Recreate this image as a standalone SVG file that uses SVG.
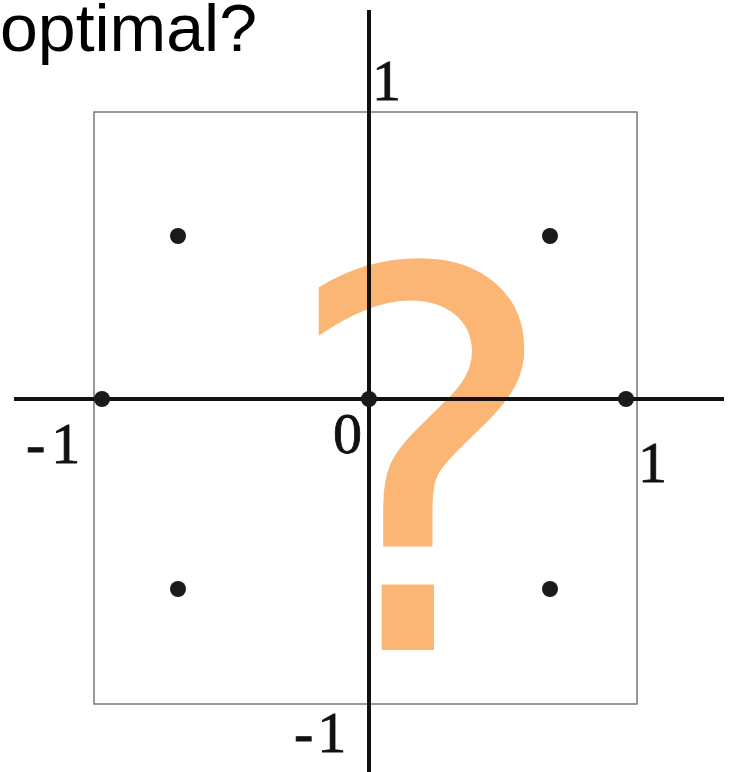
<svg xmlns="http://www.w3.org/2000/svg" width="734" height="772" viewBox="0 0 734 772">
<style>
.axis{stroke:#111;stroke-width:4;fill:none}
.box{stroke:#777;stroke-width:1.5;fill:none}
.dot{fill:#1a1a1a}
.lbl{font-family:"Liberation Serif",serif;font-size:58px;fill:#111;stroke:#111;stroke-width:0.8}
.title{font-family:"Liberation Sans",Arial,sans-serif;font-size:66px;fill:#000}
.q{font-family:"DejaVu Sans",Verdana,sans-serif;font-size:528px;fill:#FBB676}
</style>
<rect width="734" height="772" fill="#fff"/>
<g id="question-mark"><text class="q" x="421" y="650" text-anchor="middle">?</text></g>
<g id="box"><rect class="box" x="94" y="112" width="543" height="592"/></g>
<g id="connectors">
<line class="axis" x1="369" y1="10" x2="369" y2="772"/>
<line class="axis" x1="14" y1="399" x2="724" y2="399"/>
</g>
<g id="points">
<circle class="dot" cx="102" cy="399" r="8"/>
<circle class="dot" cx="369" cy="399" r="8"/>
<circle class="dot" cx="626" cy="399" r="8"/>
<circle class="dot" cx="178" cy="236" r="8"/>
<circle class="dot" cx="550" cy="236" r="8"/>
<circle class="dot" cx="178" cy="589" r="8"/>
<circle class="dot" cx="550" cy="589" r="8"/>
</g>
<g id="labels">
<text class="lbl" x="372" y="100">1</text>
<text class="lbl" x="26" y="463" letter-spacing="6">-1</text>
<text class="lbl" x="333" y="453">0</text>
<text class="lbl" x="638" y="482">1</text>
<text class="lbl" x="294" y="752" letter-spacing="4">-1</text>
</g>
<g id="title"><text class="title" x="0" y="51" textLength="257" lengthAdjust="spacingAndGlyphs">optimal?</text></g>
</svg>
